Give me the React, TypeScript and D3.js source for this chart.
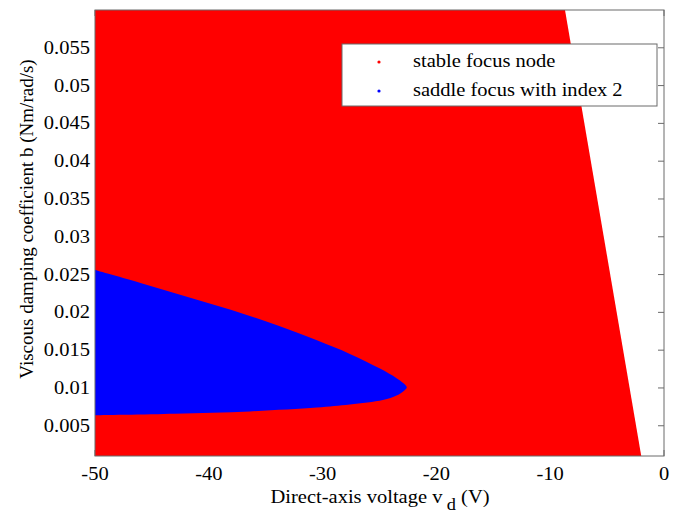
import React from "react";
import * as d3 from "d3";

// Axis ticks
const xTicks = [-50, -40, -30, -20, -10, 0];
const yTicks = [0.005, 0.01, 0.015, 0.02, 0.025, 0.03, 0.035, 0.04, 0.045, 0.05, 0.055];
const xDomain: [number, number] = [-50, 0];
const yDomain: [number, number] = [0.001, 0.06];

// Stable focus node region: bounded on the right by a straight line
const stableEdgeX = [-8.7, -2.0]; // x at top (b = max) and bottom (b = min)

// Saddle focus (index 2) region boundary, traced from left edge to tip and back
const saddleUpperX = [-50, -46, -42, -38, -34, -30.5, -27.6, -25, -23.5, -22.95];
const saddleUpperY = [0.0256, 0.0239, 0.0221, 0.0203, 0.0183, 0.0163, 0.0145, 0.0126, 0.0113, 0.0107];
const saddleTip = [-22.6, 0.0101];
const saddleLowerX = [-22.95, -23.5, -24.7, -27.6, -30.5, -36.4, -43, -50];
const saddleLowerY = [0.0095, 0.009, 0.0084, 0.0078, 0.0074, 0.0069, 0.0066, 0.0064];

const legendItems = [
  { label: "stable focus node", color: "#ff0000" },
  { label: "saddle focus with index 2", color: "#0000ff" },
];

const W = 683;
const H = 513;
const L = 95, R = 664, T = 10, B = 456;
const FONT = "Liberation Serif, Times New Roman, DejaVu Serif, serif";
const AXIS = "#6a6a6a";
const SX = 1.08; // horizontal stretch of horizontal text

export default function App() {
  const x = d3.scaleLinear().domain(xDomain).range([L, R]);
  const y = d3.scaleLinear().domain(yDomain).range([B, T]);

  const stablePts: [number, number][] = [
    [xDomain[0], yDomain[0]],
    [xDomain[0], yDomain[1]],
    [stableEdgeX[0], yDomain[1]],
    [stableEdgeX[1], yDomain[0]],
  ];
  const stablePath =
    d3.line<[number, number]>().x((d) => x(d[0])).y((d) => y(d[1]))(stablePts) + "Z";

  const saddlePts: [number, number][] = [
    ...saddleUpperX.map((v, i) => [v, saddleUpperY[i]] as [number, number]),
    [saddleTip[0], saddleTip[1]],
    ...saddleLowerX.map((v, i) => [v, saddleLowerY[i]] as [number, number]),
  ];
  const saddlePath =
    d3
      .line<[number, number]>()
      .x((d) => x(d[0]))
      .y((d) => y(d[1]))
      .curve(d3.curveCatmullRom.alpha(0.5))(saddlePts) + "Z";

  const fmtY = (v: number) => String(+v.toFixed(3));
  const tickLen = 6;
  const textStyle = { fontFamily: FONT };
  const at = (px: number, py: number) => `translate(${px},${py}) scale(${SX},1)`;

  return (
    <svg
      width={W}
      height={H}
      style={{ position: "absolute", left: 0, top: 0, background: "#fff", fontFamily: FONT }}
    >
      {/* ticks on all four sides, beneath the data */}
      <g stroke={AXIS} strokeWidth={1}>
        {xTicks.map((t) => (
          <g key={"xt" + t}>
            <line x1={x(t)} x2={x(t)} y1={B} y2={B - tickLen} />
            <line x1={x(t)} x2={x(t)} y1={T} y2={T + tickLen} />
          </g>
        ))}
        {yTicks.map((t) => (
          <g key={"yt" + t}>
            <line x1={L} x2={L + tickLen} y1={y(t)} y2={y(t)} />
            <line x1={R} x2={R - tickLen} y1={y(t)} y2={y(t)} />
          </g>
        ))}
      </g>

      <path d={stablePath} fill="#ff0000" />
      <path d={saddlePath} fill="#0000ff" />

      <rect x={L} y={T} width={R - L} height={B - T} fill="none" stroke={AXIS} strokeWidth={1} />

      {/* tick labels */}
      <g fontSize={19} fill="#000" style={textStyle}>
        {xTicks.map((t) => (
          <text key={"xl" + t} transform={at(x(t), 480)} textAnchor="middle">
            {t}
          </text>
        ))}
        {yTicks.map((t) => (
          <text key={"yl" + t} transform={at(90, y(t) + 6)} textAnchor="end">
            {fmtY(t)}
          </text>
        ))}
      </g>

      {/* axis labels */}
      <text transform={at(380, 503)} fontSize={19} textAnchor="middle" fill="#000" style={textStyle}>
        Direct-axis voltage v
        <tspan dx={4} dy={7} fontSize={17}>d</tspan>
        <tspan dy={-7}> (V)</tspan>
      </text>
      <text
        transform={`translate(33, 219) rotate(-90)`}
        fontSize={19}
        textAnchor="middle"
        fill="#000"
        style={textStyle}
      >
        Viscous damping coefficient b (Nm/rad/s)
      </text>

      {/* legend */}
      <g>
        <rect x={342} y={44} width={315} height={62} fill="#fff" stroke={AXIS} strokeWidth={1} />
        {legendItems.map((it, i) => (
          <g key={it.label}>
            <circle cx={379} cy={62 + i * 29} r={1.6} fill={it.color} />
            <text transform={at(413, 67 + i * 28.5)} fontSize={19} fill="#000" style={textStyle}>
              {it.label}
            </text>
          </g>
        ))}
      </g>
    </svg>
  );
}
